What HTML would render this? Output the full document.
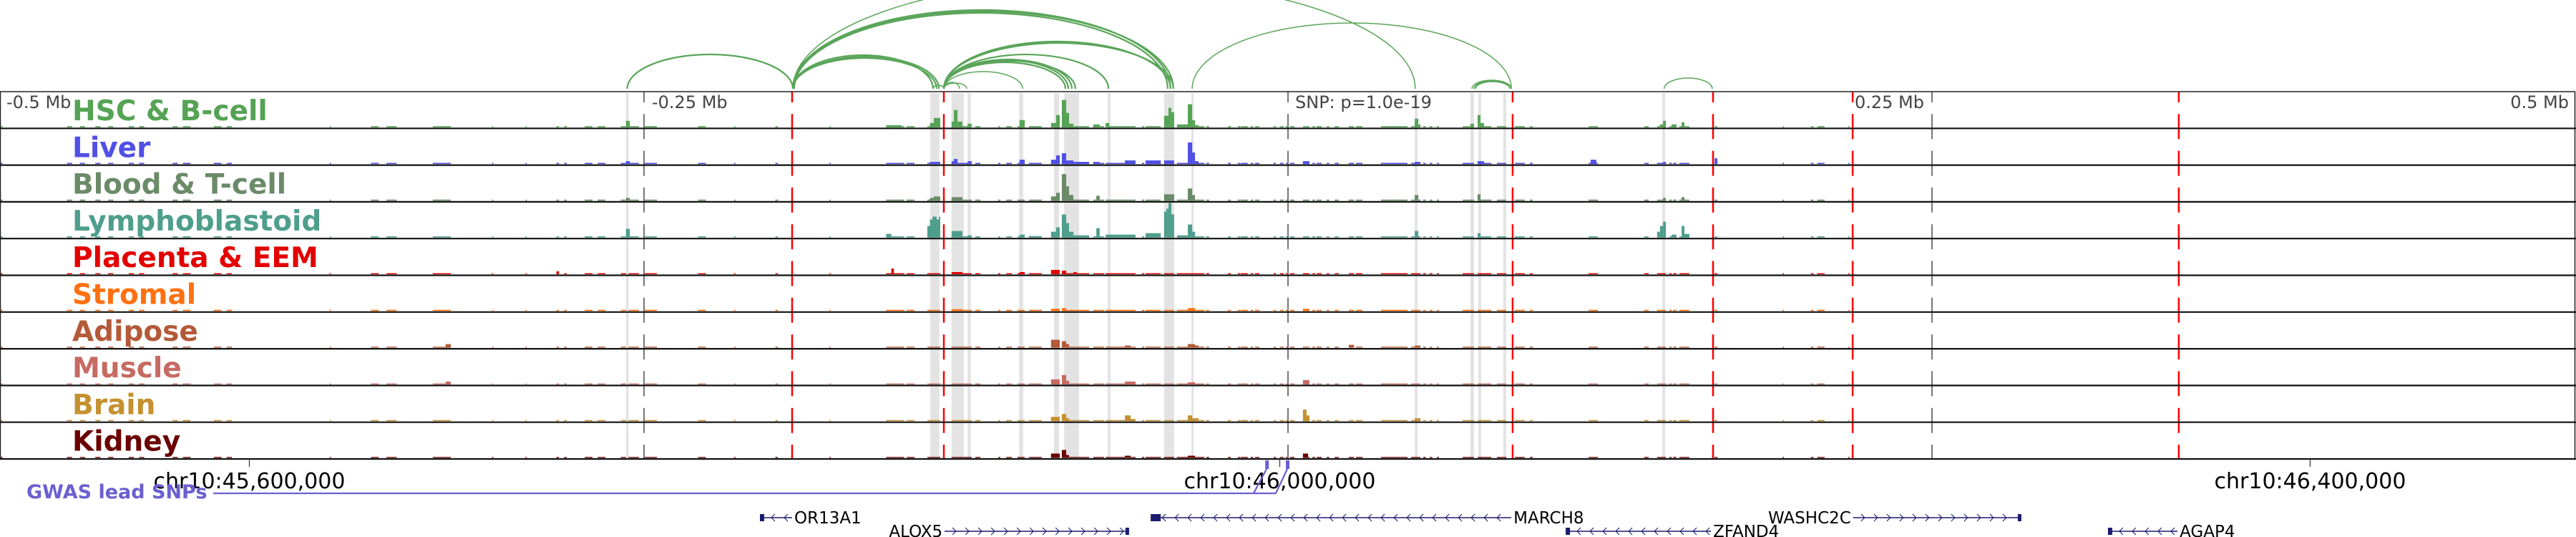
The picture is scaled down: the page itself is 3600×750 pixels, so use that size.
<!DOCTYPE html>
<html><head><meta charset="utf-8">
<style>
html,body{margin:0;padding:0;background:#fff;}
svg{display:block;font-family:"DejaVu Sans","Liberation Sans",sans-serif;}
</style></head>
<body>
<svg id="chart" width="3600" height="750" viewBox="0 0 3600 750" xmlns="http://www.w3.org/2000/svg">
<g id="bands"></g>
<g id="arcs"></g>
<g id="signals"></g>
<g id="vlines"></g>
<g id="frame"></g>
<g id="labels"></g>
<g id="genes"></g>
</svg>
<script>
// ---- data (positions in kb relative to lead SNP) ----
const tissues = ["HSC & B-cell","Liver","Blood & T-cell","Lymphoblastoid","Placenta & EEM","Stromal","Adipose","Muscle","Brain","Kidney"];
const tissueColors = ["#55a355","#5050e6","#6a8a68","#4e9e8c","#e30000","#ff7010","#b35a38","#c66a62","#c59030","#6a0000"];
const coveredIntervals = [[-500,-499],[-474,-472],[-469,-467],[-463,-461],[-458,-456],[-450,-448],[-446,-444],[-433,-431],[-429,-426],[-417,-414],[-412,-410],[-372,-371.5],[-356,-353],[-350,-346],[-332,-325],[-309,-308.5],[-296,-295.5],[-284,-283],[-281,-280],[-273,-270],[-268,-265],[-259,-257],[-256,-252],[-250,-245],[-229,-226],[-215,-214.5],[-199,-198],[-178,-177.5],[-156,-149],[-148,-145],[-140,-135],[-130.6,-122.8],[-121.4,-119.4],[-112.5,-111.7],[-109.4,-107.2],[-105,-102.2],[-100.6,-95.6],[-91.9,-88.6],[-87.8,-77.2],[-75.6,-71.4],[-70.8,-59.2],[-56.7,-55.8],[-55.3,-49.4],[-48.1,-44.2],[-43.1,-32.5],[-31.7,-30.6],[-23.3,-22.2],[-19.5,-18.5],[-18.3,-15.6],[-14.5,-13.5],[-12.8,-11.1],[-5.6,-4.7],[-3.1,-1.7],[-0.8,0],[0.8,2.5],[5.8,8.3],[9.5,10.5],[11.1,13.1],[15,16],[18.1,19.7],[23.6,25.6],[26.4,28.9],[36.1,46.4],[47.8,51.4],[52.5,53.5],[55,56],[57.8,58.6],[67.8,72.2],[73.6,78.9],[81.1,84.7],[88.1,91.9],[93.9,95],[116.7,120.3],[138.3,140],[143.3,146.7],[148,149],[149.5,150.8],[151.9,155.8],[165.6,166.7],[192,192.5],[203,204],[205.5,208.3],[217.5,218]];
const baseLevel = [1.6,1.6,1.6,1.6,1.4,1.6,1.4,1.3,1.5,1.3];
const peaksHSC = [[-257,-255.5,9],[-156,-150,3],[-139,-137.5,6],[-137.5,-135,13],[-130.6,-129.7,8],[-129.7,-128.3,24],[-128.3,-126.4,8],[-124.4,-122.8,5],[-104.2,-102.2,10],[-92,-90,6],[-90,-88.6,17],[-87.8,-86.1,38],[-86.1,-85,20],[-85,-83.3,5],[-75.6,-73.1,4],[-70.8,-69.4,6],[-48.1,-46.4,16],[-46.4,-45.3,27],[-45.3,-44.2,21],[-43.1,-38.9,4],[-38.9,-37.2,32],[-37.2,-36.1,10],[-36.1,-34.7,3],[49.2,50.6,12],[50.6,51.4,4],[70.8,72.2,5],[73.6,74.7,17],[74.7,76.1,6],[144.4,145.6,4],[145.6,146.7,9],[148.9,150.8,4],[152.8,153.9,7]];
const peaksLiver = [[-257,-255.5,4],[-139,-135,3],[-130.6,-129.7,4],[-129.7,-128.3,7],[-124.4,-122.8,4],[-104.2,-102.2,6],[-92,-90,6],[-90,-88.6,12],[-87.8,-86.1,15],[-86.1,-83.3,5],[-83.3,-77.2,3],[-75.6,-73.1,3],[-63.3,-59.2,5],[-55.3,-49.4,5],[-48.1,-44.2,5],[-38.9,-37.2,30],[-37.2,-36.1,16],[-36.1,-34.7,4],[5.8,8.3,4],[49.2,51.4,3],[73.6,76.1,4],[117.5,119.7,6],[145.6,146.7,3],[165.6,166.7,8]];
const peaksBlood = [[-257,-255.5,4],[-139,-137.5,4],[-137.5,-135,6],[-130.6,-126.4,5],[-92,-90,6],[-90,-88.6,11],[-87.8,-86.1,37],[-86.1,-85,20],[-85,-83.3,8],[-74.4,-73.1,7],[-48.1,-44.2,9],[-38.9,-37.2,17],[-37.2,-36.1,8],[49.2,50.6,8],[73.6,74.7,9],[145.6,146.7,4],[152.8,153.9,5]];
const peaksLympho = [[-257,-255.5,12],[-156,-154,5],[-140,-137.5,16],[-137.5,-135.5,22],[-135.5,-135,29],[-139,-138,25],[-138,-136.4,29],[-136.4,-135,25],[-130.6,-126.4,9],[-124.4,-122.8,3],[-104.2,-102.2,4],[-100.6,-95.6,2],[-92,-90,8],[-90,-88.6,14],[-87.8,-86.1,32],[-86.1,-85,20],[-85,-83.3,8],[-83.3,-77.2,3],[-74.4,-73.1,13],[-70.8,-59.2,4],[-55.3,-49.4,6],[-48.1,-47.2,36],[-47.2,-46.4,40],[-46.4,-45.3,48],[-45.3,-44.2,32],[-43.1,-38.9,3],[-38.9,-37.2,18],[-37.2,-36.1,8],[49.2,50.6,9],[73.6,74.7,6],[143.3,144.4,8],[144.4,145.6,16],[145.6,146.7,22],[148.9,150.8,4],[152.8,153.9,16],[153.9,155.8,5]];
const peaksPlacenta = [[-154,-153,8],[-284,-283,4],[-130.6,-126.4,3],[-104.2,-102.2,3],[-92,-88.6,6],[-87.8,-86.1,5],[-83.3,-82,3]];
const peaksStromal = [[-130.6,-126.4,2.5],[-92,-88.6,3],[-87.8,-86.1,4],[-38.9,-36.1,4],[5.8,8.3,3]];
const peaksAdipose = [[-327,-325,5],[-92,-88.6,11],[-87.8,-86.1,9],[-86.1,-85,5],[-63.3,-61.1,3],[-38.9,-36.1,5],[-36.1,-34.7,3],[23.6,25.6,4],[49.2,51.4,3]];
const peaksMuscle = [[-327,-325,4],[-92,-88.6,7],[-87.8,-86.1,13],[-86.1,-85,5],[-63.3,-59.2,4],[-38.9,-36.1,3],[5.8,8.3,6]];
const peaksBrain = [[-92,-88.6,6],[-87.8,-86.1,10],[-86.1,-85,4],[-63.3,-61.1,8],[-61.1,-59.2,3],[-38.9,-37.2,8],[-37.2,-34.7,4],[5.8,7.2,16],[7.2,8.3,8],[49.2,51.4,4]];
const peaksKidney = [[-92,-88.6,6],[-87.8,-86.1,11],[-86.1,-85,4],[-63.3,-61.1,3],[-38.9,-36.1,3],[5.8,7.8,6]];
const allPeaks = [peaksHSC,peaksLiver,peaksBlood,peaksLympho,peaksPlacenta,peaksStromal,peaksAdipose,peaksMuscle,peaksBrain,peaksKidney];
const highlightBands = [[-257,-256],[-138.9,-135.3],[-130.6,-125.8],[-124.4,-123.1],[-104.4,-102.8],[-90.8,-88.9],[-86.9,-81.1],[-70,-68.9],[-48.1,-44.2],[-37.5,-36.7],[49.2,50.3],[70.8,72.2],[73.9,75],[83.6,84.7],[145.3,146.4]];
const redMarkers = [-192.5,-133.6,87.2,165,219.2,345.8];
const grayMarkers = [-250,0,250];
const arcStarts = [-256.5,-192.2,-192.2,-192.2,-191.7,-192.2,-192.2,-192.2,-133.6,-133.6,-133.6,-133.6,-133.6,-133.6,-133.6,-133.6,-133.6,-133.6,-137.8,-37.2,71.4,72.8,72.2,146];
const arcEnds   = [-192.2,49.4,-45.6,-44.5,-46.7,-137.8,-136.4,-135.5,-45.6,-44.5,-69.7,-82.5,-83.9,-85.3,-86.4,-103,-124.7,-127.5,-133.6,86.7,86.7,86.1,86.7,164.7];
const arcHeights= [48,153,110,108,106,47,43,45,66,64,48,39,41,40,37,24,8,9,5,92,12,10,11,15];
const axisTickLabels = ["-0.5 Mb","-0.25 Mb","SNP: p=1.0e-19","0.25 Mb","0.5 Mb"];
const axisTickPos = [-500,-250,0,250,500];
const chrTickLabels = ["chr10:45,600,000","chr10:46,000,000","chr10:46,400,000"];
const chrTickPos = [-403.2,-3.2,396.8];
const geneNames = ["OR13A1","ALOX5","MARCH8","ZFAND4","WASHC2C","AGAP4"];
const geneStarts = [-205,-133.3,-53.3,107.8,219.4,318.3];
const geneEnds = [-192.5,-61.7,86.7,164.2,284.7,345.3];
const geneStrand = [-1,1,-1,-1,1,-1];
const geneRow = [0,1,0,1,0,1];

// ---- scales ----
const NS="http://www.w3.org/2000/svg";
const PX_PER_KB=3.6, X0=1800;
function X(kb){return X0+kb*PX_PER_KB;}
const TOP=128, TH=51.3, NT=tissues.length, BOTTOM=TOP+TH*NT;
function trackBottom(i){return TOP+TH*(i+1)-1.5;}
function H(v){return v*(TH-3)/48;}
function mk(tag,attrs,parent){const e=document.createElementNS(NS,tag);for(const k in attrs)e.setAttribute(k,attrs[k]);parent.appendChild(e);return e;}
const gB=document.getElementById('bands'),gA=document.getElementById('arcs'),gS=document.getElementById('signals'),gV=document.getElementById('vlines'),gF=document.getElementById('frame'),gL=document.getElementById('labels'),gG=document.getElementById('genes');

highlightBands.forEach(b=>{
  const r=mk('rect',{x:X(b[0]),y:TOP+2,width:Math.max(3,X(b[1])-X(b[0])),height:BOTTOM-TOP-2,fill:'#e3e3e3'},gB);
  
  
});

const ARC_BASE=124;
arcStarts.forEach((s,i)=>{
  const x1=X(s),x2=X(arcEnds[i]);const a=Math.min(x1,x2),b=Math.max(x1,x2);
  const rx=(b-a)/2, ry=arcHeights[i];
  const p=mk('path',{d:`M${a},${ARC_BASE} A${rx},${ry} 0 0 1 ${b},${ARC_BASE}`,fill:'none',stroke:'#5aa55a','stroke-width':(ry>100&&ry<120)||(ry>30&&ry<70)?2.2:1.5},gA);
  
  
});

tissues.forEach((t,i)=>{
  const g=mk('g',{},gS);
  
  
  const yb=trackBottom(i), col=tissueColors[i];
  coveredIntervals.forEach(c=>{
    const h=H(baseLevel[i]);
    const r=mk('rect',{x:X(c[0]),y:yb-h,width:Math.max(1.5,X(c[1])-X(c[0])),height:h,fill:col},g);
    
    
  });
  allPeaks[i].forEach(p=>{
    const h=H(p[2]);
    const r=mk('rect',{x:X(p[0]),y:yb-h,width:Math.max(1.5,X(p[1])-X(p[0])),height:h,fill:col},g);
    
    
  });
});

grayMarkers.forEach(m=>{
  const l=mk('line',{x1:X(m),x2:X(m),y1:TOP,y2:BOTTOM,stroke:'#777','stroke-width':2,'stroke-dasharray':'35 16.3','stroke-dashoffset':20},gV);
  
  
});
redMarkers.forEach(m=>{
  const l=mk('line',{x1:X(m),x2:X(m),y1:TOP,y2:BOTTOM,stroke:'#ff0000','stroke-width':2.5,'stroke-dasharray':'35 16.3','stroke-dashoffset':20},gV);
  
  
});

const outer=mk('rect',{x:0.5,y:TOP,width:3598,height:BOTTOM-TOP,fill:'none',stroke:'#222','stroke-width':1.5},gF);


for(let i=0;i<NT;i++){
  const y=TOP+TH*(i+1);
  const l=mk('line',{x1:0,x2:3600,y1:y,y2:y,stroke:'#111','stroke-width':2.2},gF);
  
  
}

axisTickLabels.forEach((s,i)=>{
  let x=X(axisTickPos[i]), anchor='start';
  if(i===0)x=9; else if(i===1)x=X(axisTickPos[i])+11; else if(i===2)x=X(axisTickPos[i])+10; else if(i===3){x=X(axisTickPos[i])-11;anchor='end';} else {x=3590;anchor='end';}
  const t=mk('text',{x:x,y:151,'font-size':24,fill:'#444','text-anchor':anchor},gL);
  t.textContent=s;
  
  
});

tissues.forEach((s,i)=>{
  const t=mk('text',{x:101,y:TOP+TH*i+40,'font-size':39,'font-weight':'bold',fill:tissueColors[i]},gL);
  t.textContent=s;
  
  
});

chrTickLabels.forEach((s,i)=>{
  const x=X(chrTickPos[i]);
  const l=mk('line',{x1:x,x2:x,y1:BOTTOM,y2:BOTTOM+11,stroke:'#333','stroke-width':1.2},gG);
  
  
  const t=mk('text',{x:x,y:682,'font-size':30,fill:'#000','text-anchor':'middle'},gG);
  t.textContent=s;
  
  
});

const gw=mk('text',{x:37,y:696,'font-size':27,'font-weight':'bold',fill:'#6b5fd0'},gG);
gw.textContent='GWAS lead SNPs';


const gl=mk('path',{d:`M298,689 L1783,689 M1752,689 L1770,655 M1783,689 L1799,655`,fill:'none',stroke:'#6b5fd0','stroke-width':2.2},gG);


[-8,0].forEach(k=>{
  const r=mk('rect',{x:X(k)-3,y:643,width:5,height:12,fill:'#6b5fd0'},gG);
  
  
});

geneNames.forEach((n,i)=>{
  const g=mk('g',{},gG);
  
  
  const x1=X(geneStarts[i]),x2=X(geneEnds[i]);const y=geneRow[i]===0?723:742;
  mk('line',{x1:x1,x2:x2,y1:y,y2:y,stroke:'#1c1c70','stroke-width':1.6},g);
  const boxX=geneStrand[i]<0?x1:x2-5;
  mk('rect',{x:boxX,y:y-5,width:geneStrand[i]<0?(n==='MARCH8'?14:6):5,height:10,fill:'#1c1c70'},g);
  let d='';
  for(let x=x1+16;x<x2-4;x+=18){
    if(geneStrand[i]<0) d+=`M${x+5},${y-5} L${x},${y} L${x+5},${y+5} `;
    else d+=`M${x-5},${y-5} L${x},${y} L${x-5},${y+5} `;
  }
  mk('path',{d:d,fill:'none',stroke:'#1c1c70','stroke-width':1.1},g);
  const t=mk('text',{x:geneStrand[i]<0?x2+3:x1-3,y:y+8,'font-size':23,fill:'#000','text-anchor':geneStrand[i]<0?'start':'end'},g);
  t.textContent=n;
  
  
});
</script>
</body></html>
